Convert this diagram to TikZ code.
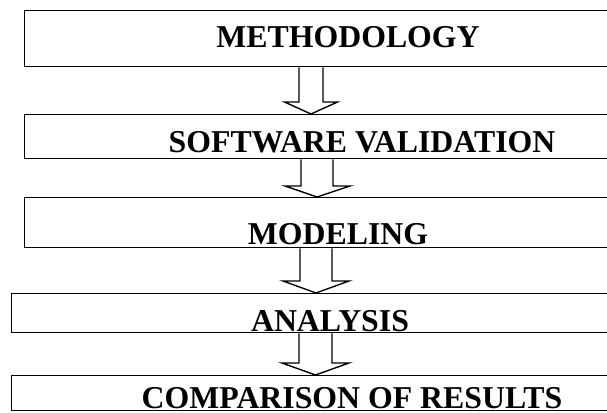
\documentclass[tikz,border=0pt]{standalone}
\usepackage{fontspec}
\setmainfont{Liberation Serif}
\usetikzlibrary{calc}

\begin{document}
\begin{tikzpicture}[x=1pt,y=1pt,
    box/.style={draw,line width=1.4pt,anchor=north west,inner sep=0pt,minimum width=640pt},
    title/.style={anchor=base,inner sep=0pt,font=\fontsize{31.8}{36}\selectfont\bfseries},
    arrowline/.style={line width=1.4pt,line join=miter}]
    \path[use as bounding box,clip] (0,0) rectangle (607,412);
    % boxes, cut off at the right edge
    \node[box,minimum height=56pt] (meth) at (24,402) {};
    \node[box,minimum height=44pt] (soft) at (24,298) {};
    \node[box,minimum height=50pt] (model) at (24,215) {};
    \node[box,minimum height=39pt] (anal) at (11,119) {};
    \node[box,minimum height=35pt] (comp) at (11,37) {};
    % block arrows
    \draw[arrowline] let \p1=(meth.south), \p2=(soft.north) in
      (299pt,\y1) -- (299pt,\y2+12pt) -- (284.5pt,\y2+12pt) -- (311pt,\y2)
      -- (337.5pt,\y2+12pt) -- (323pt,\y2+12pt) -- (323pt,\y1);
    \draw[arrowline] let \p1=(soft.south), \p2=(model.north) in
      (301pt,\y1) -- (301pt,\y2+11pt) -- (285pt,\y2+11pt) -- (317pt,\y2)
      -- (350pt,\y2+11pt) -- (333pt,\y2+11pt) -- (333pt,\y1);
    \draw[arrowline] let \p1=(model.south), \p2=(anal.north) in
      (300pt,\y1) -- (300pt,\y2+12pt) -- (283pt,\y2+12pt) -- (316pt,\y2)
      -- (349pt,\y2+12pt) -- (332pt,\y2+12pt) -- (332pt,\y1);
    \draw[arrowline] let \p1=(anal.south), \p2=(comp.north) in
      (299pt,\y1) -- (299pt,\y2+12pt) -- (282pt,\y2+12pt) -- (315.5pt,\y2)
      -- (349pt,\y2+12pt) -- (332pt,\y2+12pt) -- (332pt,\y1);
    % texts
    \node[title] (methtext) at (348,364) {METHODOLOGY};
    \node[title] (softtext) at (362,259) {SOFTWARE VALIDATION};
    \node[title] (modeltext) at (338,167) {MODELING};
    \node[title] (analtext) at (330,80) {ANALYSIS};
    \node[title] (comptext) at (352,4) {COMPARISON OF RESULTS};
\end{tikzpicture}
\end{document}
